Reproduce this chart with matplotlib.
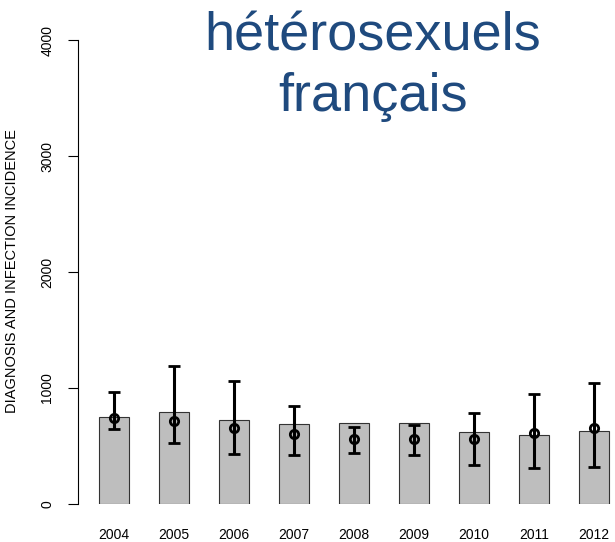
import numpy as np
import matplotlib
matplotlib.use('Agg')
import matplotlib.pyplot as plt

# Data
years = ['2004', '2005', '2006', '2007', '2008', '2009', '2010', '2011', '2012']
diagnoses = [750, 790, 724, 692, 701, 701, 621, 592, 632]
incidence = [739, 716, 652, 603, 557, 557, 563, 612, 655]
ci_low = [644, 523, 431, 425, 440, 420, 339, 310, 322]
ci_high = [963, 1190, 1063, 848, 661, 684, 782, 945, 1040]
yticks = [0, 1000, 2000, 3000, 4000]

plt.rcParams['font.family'] = ['Liberation Sans', 'DejaVu Sans']

fig = plt.figure(figsize=(6.15, 5.42), dpi=100)
W, H = 615, 542
ax = fig.add_axes([78 / W, (H - 504) / H, (615 - 78) / W, 464 / H])

x = np.arange(len(years))
ax.bar(x, diagnoses, width=0.5, color='#bebebe', edgecolor='#333333', linewidth=0.8)

inc = np.array(incidence)
err = [inc - np.array(ci_low), np.array(ci_high) - inc]
ax.errorbar(x, inc, yerr=err, fmt='o', color='black', mfc='none', mec='black',
            ms=6, mew=2, elinewidth=2.2, capsize=4, capthick=2.2, clip_on=False)

ax.set_xlim(-0.6, 8.35)
ax.set_ylim(0, 4000)
ax.set_yticks(yticks)
ax.set_yticklabels([str(t) for t in yticks], rotation=90, va='center', fontsize=10)
ax.set_xticks(x)
ax.set_xticklabels(years, fontsize=10)
ax.tick_params(axis='x', length=0, pad=17)
ax.tick_params(axis='y', length=7, width=0.8, pad=10)

for s in ['top', 'right', 'bottom']:
    ax.spines[s].set_visible(False)
ax.spines['left'].set_linewidth(0.8)

fig.text(12 / W, 0.5, 'DIAGNOSIS AND INFECTION INCIDENCE', rotation=90,
         ha='center', va='center', fontsize=10.5)

# title, two lines placed by baseline
fig.text(372.5 / W, 1 - 51 / H, 'hétérosexuels', ha='center', va='baseline',
         fontsize=39, color='#1f4a7e')
fig.text(373.5 / W, 1 - 111 / H, 'français', ha='center', va='baseline',
         fontsize=39, color='#1f4a7e')

fig.savefig('out.png', dpi=100)
